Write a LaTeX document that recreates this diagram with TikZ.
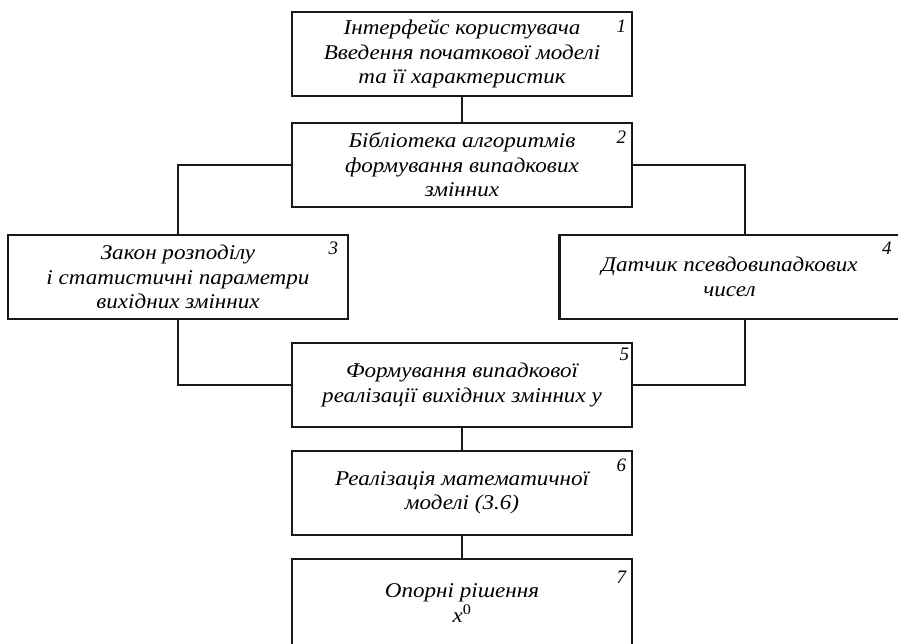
\documentclass[tikz,border=0pt]{standalone}
\usepackage{fontspec}
\setmainfont{Liberation Serif}
\newfontfamily\boxfont[FakeStretch=1.1]{Liberation Serif}
\usetikzlibrary{positioning}
\definecolor{linegray}{RGB}{25,25,25}
\tikzset{
  block/.style={
    draw=linegray,
    line width=2.6pt,
    align=center,
    minimum width=340pt,
    minimum height=84pt,
    inner sep=0pt,
    font=\boxfont\fontsize{21}{24.5}\selectfont\itshape
  },
  num/.style={font=\fontsize{19}{20}\selectfont\itshape, inner sep=0pt},
  link/.style={draw=linegray, line width=2pt}
}

\begin{document}
\begin{tikzpicture}[x=1pt, y=1pt, node distance=21.4pt and 20pt]
  \useasboundingbox (0,0) rectangle (898,-644);

  \node[block] (iface) at (462,-54) {Інтерфейс користувача\\
    Введення початкової моделі\\
    та її характеристик};
  \node[block, below=24.4pt of iface] (lib) {Бібліотека алгоритмів\\
    формування випадкових\\
    змінних};
  \node[block, below=25.4pt of lib, xshift=-284pt] (law) {Закон розподілу\\
    і статистичні параметри\\
    вихідних змінних};
  \node[block, below=25.4pt of lib, xshift=267.5pt] (gen) {Датчик псевдовипадкових\\
    чисел};
  \node[block, below=of law, xshift=284pt] (form) {Формування випадкової\\
    реалізації вихідних змінних у};
  \node[block, below=of form] (model) {Реалізація математичної\\
    моделі (3.6)};
  \node[block, below=of model, minimum height=88pt] (ref) {Опорні рішення\\
    x\textsuperscript{\upshape 0}};

  \node[num] (n1) at ([xshift=-12pt, yshift=-16pt]iface.north east) {1};
  \node[num] (n2) at ([xshift=-12pt, yshift=-16pt]lib.north east) {2};
  \node[num] (n3) at ([xshift=-16pt, yshift=-15pt]law.north east) {3};
  \node[num] (n4) at ([xshift=-14pt, yshift=-15pt]gen.north east) {4};
  \node[num] (n5) at ([xshift=-9pt, yshift=-13pt]form.north east) {5};
  \node[num] (n6) at ([xshift=-12pt, yshift=-16pt]model.north east) {6};
  \node[num] (n7) at ([xshift=-12pt, yshift=-20pt]ref.north east) {7};

  \draw[link] (iface) -- (lib);
  \draw[link] (lib.west) -| (law.north);
  \draw[link] (lib.east) -| ([xshift=15pt]gen.north);
  \draw[link] (law.south) |- (form.west);
  \draw[link] ([xshift=15pt]gen.south) |- (form.east);
  \draw[link] (form) -- (model);
  \draw[link] (model) -- (ref);
\end{tikzpicture}
\end{document}
